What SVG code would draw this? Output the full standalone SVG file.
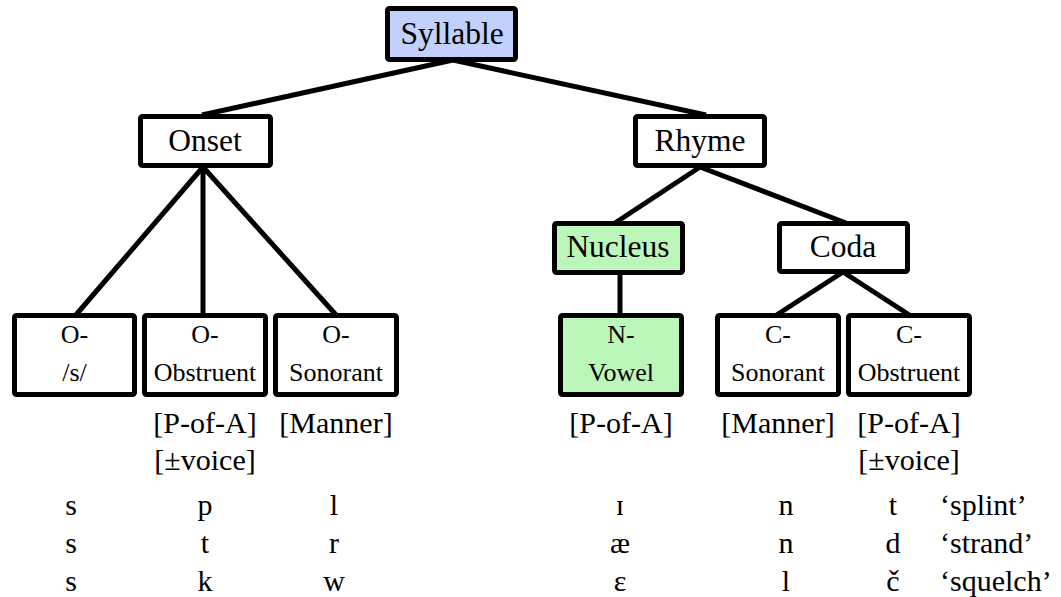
<svg xmlns="http://www.w3.org/2000/svg" width="1061" height="597" viewBox="0 0 1061 597">
<style>
.box{fill:#ffffff;stroke:#000000;stroke-width:5;}
.blue{fill:#c1d1fb;}
.green{fill:#bbf7b9;}
text{font-family:'Liberation Serif','Times New Roman','DejaVu Serif',serif;fill:#000;}
.lab{font-size:31.5px;text-anchor:middle;}
.sm{font-size:26px;text-anchor:middle;}
.ex{font-size:30px;text-anchor:middle;}
.gl{font-size:30px;text-anchor:start;}
.edge{stroke:#000;stroke-width:5;fill:none;stroke-linecap:butt;}
</style>
<rect width="1061" height="597" fill="#ffffff"/>
<g id="connectors">
<line class="edge" x1="453" y1="60" x2="202" y2="115"/>
<line class="edge" x1="453" y1="60" x2="706" y2="115"/>
<line class="edge" x1="203" y1="167" x2="75" y2="316"/>
<line class="edge" x1="203" y1="167" x2="203" y2="316"/>
<line class="edge" x1="203" y1="167" x2="337" y2="316"/>
<line class="edge" x1="700" y1="167" x2="615" y2="223"/>
<line class="edge" x1="700" y1="167" x2="846" y2="223"/>
<line class="edge" x1="620" y1="273" x2="620" y2="316"/>
<line class="edge" x1="843" y1="272" x2="775" y2="316"/>
<line class="edge" x1="843" y1="272" x2="911" y2="316"/>
</g>
<g id="syllable">
<rect class="box blue" x="387.5" y="8.5" width="128" height="51" rx="2"/>
<text class="lab" x="452" y="44">Syllable</text>
</g>
<g id="onset">
<rect class="box" x="140.5" y="116.5" width="130" height="49" rx="2"/>
<text class="lab" x="205" y="151">Onset</text>
</g>
<g id="rhyme">
<rect class="box" x="635.5" y="116.5" width="129" height="49" rx="2"/>
<text class="lab" x="700" y="151">Rhyme</text>
</g>
<g id="nucleus">
<rect class="box green" x="554.5" y="223.5" width="128" height="49" rx="2"/>
<text class="lab" x="618" y="257">Nucleus</text>
</g>
<g id="coda">
<rect class="box" x="779.5" y="223.5" width="128" height="48" rx="2"/>
<text class="lab" x="843" y="257">Coda</text>
</g>
<g id="o-s">
<rect class="box" x="14.5" y="315.5" width="120" height="79" rx="2"/>
<text class="sm" x="74.5" y="343">O-</text>
<text class="sm" x="74.5" y="381">/s/</text>
</g>
<g id="o-obstruent">
<rect class="box" x="144.5" y="315.5" width="121" height="79" rx="2"/>
<text class="sm" x="205" y="343">O-</text>
<text class="sm" x="205" y="381">Obstruent</text>
</g>
<g id="o-sonorant">
<rect class="box" x="275.5" y="315.5" width="121" height="79" rx="2"/>
<text class="sm" x="336" y="343">O-</text>
<text class="sm" x="336" y="381">Sonorant</text>
</g>
<g id="n-vowel">
<rect class="box green" x="560.5" y="315.5" width="121" height="79" rx="2"/>
<text class="sm" x="621" y="343">N-</text>
<text class="sm" x="621" y="381">Vowel</text>
</g>
<g id="c-sonorant">
<rect class="box" x="717.5" y="315.5" width="121" height="79" rx="2"/>
<text class="sm" x="778" y="343">C-</text>
<text class="sm" x="778" y="381">Sonorant</text>
</g>
<g id="c-obstruent">
<rect class="box" x="848.5" y="315.5" width="121" height="79" rx="2"/>
<text class="sm" x="909" y="343">C-</text>
<text class="sm" x="909" y="381">Obstruent</text>
</g>
<g id="features">
<text class="ex" x="205" y="433">[P-of-A]</text>
<text class="ex" x="205" y="470">[±voice]</text>
<text class="ex" x="336" y="433">[Manner]</text>
<text class="ex" x="621" y="433">[P-of-A]</text>
<text class="ex" x="778" y="433">[Manner]</text>
<text class="ex" x="909" y="433">[P-of-A]</text>
<text class="ex" x="909" y="470">[±voice]</text>
</g>
<g id="examples">
<text class="ex" x="71" y="515">s</text>
<text class="ex" x="205" y="515">p</text>
<text class="ex" x="334" y="515">l</text>
<text class="ex" x="620" y="515">ɪ</text>
<text class="ex" x="786" y="515">n</text>
<text class="ex" x="893" y="515">t</text>
<text class="gl" x="940" y="515">‘splint’</text>
<text class="ex" x="71" y="553">s</text>
<text class="ex" x="205" y="553">t</text>
<text class="ex" x="334" y="553">r</text>
<text class="ex" x="620" y="553">æ</text>
<text class="ex" x="786" y="553">n</text>
<text class="ex" x="893" y="553">d</text>
<text class="gl" x="940" y="553">‘strand’</text>
<text class="ex" x="71" y="591">s</text>
<text class="ex" x="205" y="591">k</text>
<text class="ex" x="334" y="591">w</text>
<text class="ex" x="620" y="591">ɛ</text>
<text class="ex" x="786" y="591">l</text>
<text class="ex" x="893" y="591">č</text>
<text class="gl" x="940" y="591">‘squelch’</text>
</g>
</svg>
